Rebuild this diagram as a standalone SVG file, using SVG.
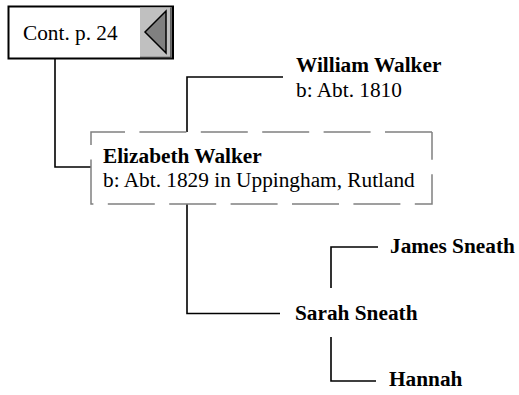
<svg xmlns="http://www.w3.org/2000/svg" width="519" height="395" viewBox="0 0 519 395">
<style>
text{font-family:"Liberation Serif","Times New Roman",serif;font-size:21.3px;fill:#000}
.b{font-weight:bold}
.ln{fill:none;stroke:#000;stroke-width:1.6}
</style>
<rect width="519" height="395" fill="#fff"/>
<g id="connectors">
<path class="ln" d="M55,58 V167 H91"/>
<path class="ln" d="M187,132 V77 H283"/>
<path class="ln" d="M187,204 V313.5 H280"/>
<path class="ln" d="M331,288 V247 H378"/>
<path class="ln" d="M331,337 V381 H376"/>
</g>
<g id="cont">
<rect x="8.5" y="6.5" width="164.5" height="52" fill="#fff" stroke="#000" stroke-width="2"/>
<rect x="140" y="7.5" width="31" height="50" fill="#c0c0c0"/>
<path d="M171,7.5 V57.5 H140" fill="none" stroke="#404040" stroke-width="1.5"/>
<polygon points="145,32 166,11 166,53" fill="#808080" stroke="#000" stroke-width="1.5"/>
<text x="23" y="40">Cont. p. 24</text>
</g>
<g id="william">
<text class="b" x="296" y="72">William Walker</text>
<text x="296" y="97">b: Abt. 1810</text>
</g>
<g id="elizabeth">
<path d="M432,132 H91 V204 H432 V132" fill="none" stroke="#808080" stroke-width="1.5" stroke-dasharray="47 14.4"/>
<text class="b" x="103" y="163">Elizabeth Walker</text>
<text x="103" y="187">b: Abt. 1829 in Uppingham, Rutland</text>
</g>
<g id="james">
<text class="b" x="390" y="253">James Sneath</text>
</g>
<g id="sarah">
<text class="b" x="295" y="320">Sarah Sneath</text>
</g>
<g id="hannah">
<text class="b" x="389" y="386">Hannah</text>
</g>
</svg>
